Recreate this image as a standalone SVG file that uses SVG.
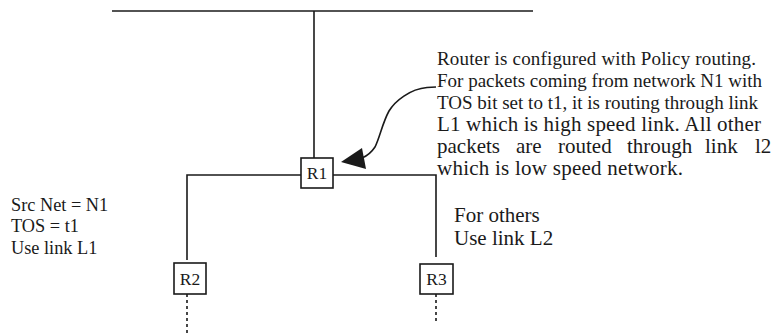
<svg xmlns="http://www.w3.org/2000/svg" width="775" height="335" viewBox="0 0 775 335">
<style>
.ln{stroke:#1a1a1a;stroke-width:1.6;fill:none}
.dash{stroke:#1a1a1a;stroke-width:1.6;fill:none;stroke-dasharray:3 3}
.box{fill:#fff;stroke:#1a1a1a;stroke-width:1.6}
text{font-family:"Liberation Serif","Times New Roman",serif;fill:#1a1a1a}
.lbl{font-size:17.5px;text-anchor:middle}
.s19{font-size:19px}
.s21{font-size:21px}
.s18{font-size:18.3px}
</style>
<rect width="775" height="335" fill="#fff"/>
<g id="connectors">
<line class="ln" x1="112" y1="11" x2="533" y2="11"/>
<line class="ln" x1="314" y1="11" x2="314" y2="158"/>
<polyline class="ln" points="301,175 187,175 187,260"/>
<polyline class="ln" points="333,175 436,175 436,257"/>
<line class="dash" x1="187" y1="294" x2="187" y2="335"/>
<line class="dash" x1="436" y1="294" x2="436" y2="323"/>
<path class="ln" d="M436,87 L427,87.5 C410,89 395,101 389,111 C382,124 380,137 375,147 C371,153 367,156 362,158"/>
<polygon points="341,162 362,148 366,169" fill="#1a1a1a"/>
</g>
<g id="R1">
<rect class="box" x="301" y="158" width="32" height="30"/>
<text class="lbl" x="317" y="179">R1</text>
</g>
<g id="R2">
<rect class="box" x="174" y="263" width="32" height="31"/>
<text class="lbl" x="190" y="285">R2</text>
</g>
<g id="R3">
<rect class="box" x="420" y="264" width="33" height="30"/>
<text class="lbl" x="436.5" y="285">R3</text>
</g>
<g id="note-left">
<text class="s18" x="11" y="211">Src Net = N1</text>
<text class="s18" x="11" y="232">TOS = t1</text>
<text class="s18" x="11" y="254">Use link L1</text>
</g>
<g id="note-right">
<text class="s21" x="454" y="222">For others</text>
<text class="s21" x="454" y="245">Use link L2</text>
</g>
<g id="note-policy">
<text class="s19" x="437" y="65" textLength="319" lengthAdjust="spacing">Router is configured with Policy routing.</text>
<text class="s19" x="437" y="87" textLength="325" lengthAdjust="spacing">For packets coming from network N1 with</text>
<text class="s19" x="437" y="109" textLength="321" lengthAdjust="spacing">TOS bit set to t1, it is routing through link</text>
<text class="s21" x="437" y="131" textLength="324" lengthAdjust="spacing">L1 which is high speed link. All other</text>
<text class="s21" y="153"><tspan x="437">packets</tspan><tspan x="516">are</tspan><tspan x="558">routed</tspan><tspan x="627">through</tspan><tspan x="705">link</tspan><tspan x="755">l2</tspan></text>
<text class="s21" x="437" y="175" textLength="246" lengthAdjust="spacing">which is low speed network.</text>
</g>
</svg>
